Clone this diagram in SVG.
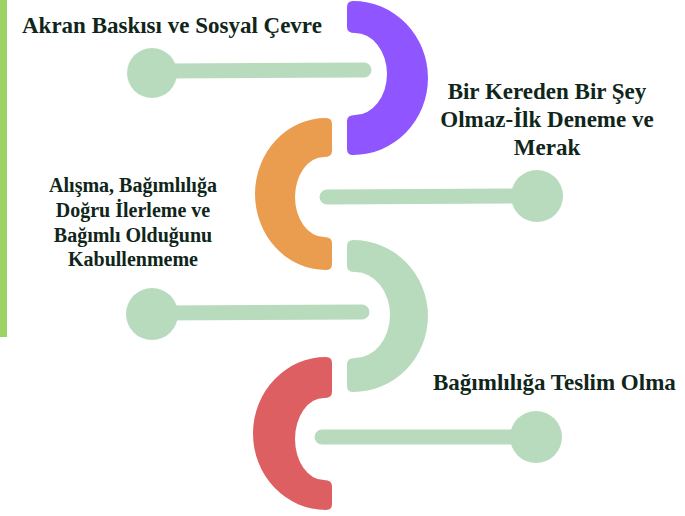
<svg xmlns="http://www.w3.org/2000/svg" width="685" height="516" viewBox="0 0 685 516">
<style>
.t{font-family:"Liberation Serif","Times New Roman",serif;font-weight:bold;fill:#10261a}
.big{font-size:23px}
.small{font-size:20px}
.ln{stroke:#b9dbbd;stroke-width:15;stroke-linecap:round;fill:none}
.dot{fill:#b9dbbd}
</style>
<rect x="0" y="0" width="7" height="337" fill="#9bd465"/>
<g id="arc-purple"><path fill="#8f55ff" d="M347,7 Q347,1 353,1 A75 77 0 0 1 353,155 Q347,155 347,149 L347,121 Q347,115 355,115 A32 41 0 0 0 355,33 Q347,33 347,27 Z"/></g>
<g id="arc-orange"><path fill="#ea9c4f" d="M332,124 Q332,118 326,118 A71 76 0 0 0 326,270 Q332,270 332,264 L332,243 Q332,237 324,237 A29 40 0 0 1 324,157 Q332,157 332,151 Z"/></g>
<g id="arc-green"><path fill="#b9dbbd" d="M347,246 Q347,240 353,240 A75 76 0 0 1 353,392 Q347,392 347,386 L347,364 Q347,358 355,358 A35 43 0 0 0 355,272 Q347,272 347,266 Z"/></g>
<g id="arc-red"><path fill="#de5f62" d="M332,363 Q332,357 326,357 A73 76.5 0 0 0 326,510 Q332,510 332,504 L332,486 Q332,480 324,480 A29 41 0 0 1 324,398 Q332,398 332,392 Z"/></g>
<g id="connectors">
<line class="ln" x1="165" y1="71" x2="364" y2="70"/><circle class="dot" cx="152" cy="73" r="25"/>
<line class="ln" x1="327" y1="197" x2="520" y2="196"/><circle class="dot" cx="537" cy="196" r="26"/>
<line class="ln" x1="160" y1="313" x2="362" y2="312"/><circle class="dot" cx="152" cy="314" r="26"/>
<line class="ln" x1="322" y1="437" x2="520" y2="437"/><circle class="dot" cx="536" cy="437" r="26"/>
</g>
<g id="label-1"><text class="t big" x="22" y="33">Akran Baskısı ve Sosyal Çevre</text></g>
<g id="label-2"><text class="t big" text-anchor="middle"><tspan x="547" y="99">Bir Kereden Bir Şey</tspan><tspan x="547" y="127">Olmaz-İlk Deneme ve</tspan><tspan x="547" y="155">Merak</tspan></text></g>
<g id="label-3"><text class="t small" text-anchor="middle"><tspan x="133" y="192">Alışma, Bağımlılığa</tspan><tspan x="133" y="217">Doğru İlerleme ve</tspan><tspan x="133" y="242">Bağımlı Olduğunu</tspan><tspan x="133" y="266">Kabullenmeme</tspan></text></g>
<g id="label-4"><text class="t big" x="433" y="390">Bağımlılığa Teslim Olma</text></g>
</svg>
